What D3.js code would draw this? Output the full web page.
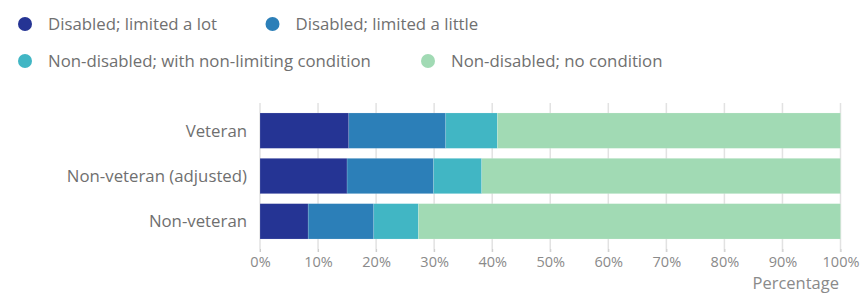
<!DOCTYPE html>
<html>
<head>
<meta charset="utf-8">
<script src="https://cdn.jsdelivr.net/npm/d3@7"></script>
<style>
  body { margin: 0; background: #fff; }
  svg text { font-family: "Open Sans", sans-serif; }
</style>
</head>
<body>
<svg id="chart" width="863" height="294"></svg>
<script>
// data
var categories = ["Veteran", "Non-veteran (adjusted)", "Non-veteran"];
var seriesNames = ["Disabled; limited a lot", "Disabled; limited a little",
                   "Non-disabled; with non-limiting condition", "Non-disabled; no condition"];
var limitedALot = [15.3, 15.0, 8.3];
var limitedALittle = [16.7, 14.9, 11.3];
var nonLimiting = [8.9, 8.3, 7.7];
var noCondition = [59.1, 61.8, 72.7];
var colours = ["#253494", "#2c7fb8", "#41b6c4", "#a1dab4"];
var xTicks = [0, 10, 20, 30, 40, 50, 60, 70, 80, 90, 100];

var svg = d3.select("#chart");

// build rows for the stack
var rows = categories.map(function(c, i) {
    return { cat: c, s0: limitedALot[i], s1: limitedALittle[i], s2: nonLimiting[i], s3: noCondition[i] };
});
var stack = d3.stack().keys(["s0", "s1", "s2", "s3"])(rows);

var x = d3.scaleLinear().domain([0, 100]).range([260, 840.5]);
var y = d3.scaleBand().domain(categories).range([103, 249]).padding(0.22);

// gridlines
svg.append("g")
    .selectAll("line")
    .data(xTicks)
    .join("line")
        .attr("x1", function(d) { return x(d); })
        .attr("x2", function(d) { return x(d); })
        .attr("y1", 103)
        .attr("y2", 252)
        .attr("stroke", "#e2e2e2")
        .attr("stroke-width", 1.5);

// bars
svg.append("g")
    .selectAll("g")
    .data(stack)
    .join("g")
        .attr("fill", function(d, i) { return colours[i]; })
    .selectAll("rect")
    .data(function(d) { return d; })
    .join("rect")
        .attr("x", function(d) { return x(d[0]); })
        .attr("y", function(d) { return y(d.data.cat); })
        .attr("width", function(d) { return x(d[1]) - x(d[0]); })
        .attr("height", y.bandwidth())
        .attr("stroke", "#ffffff")
        .attr("stroke-opacity", 0.25)
        .attr("stroke-width", 0.6);

// x axis
var xAxis = svg.append("g")
    .attr("transform", "translate(0,249)")
    .call(d3.axisBottom(x).tickValues(xTicks).tickFormat(function(d) { return d + "%"; })
        .tickSize(3).tickPadding(5));
xAxis.select(".domain").remove();
xAxis.selectAll("line").attr("stroke", "#cccccc");
xAxis.selectAll("text")
    .attr("fill", "#8a8a8a")
    .style("font-size", "14.5px");

svg.append("text")
    .attr("x", 839)
    .attr("y", 289)
    .attr("text-anchor", "end")
    .attr("fill", "#8a8a8a")
    .style("font-size", "16.5px")
    .text("Percentage");

// category labels
svg.append("g")
    .selectAll("text")
    .data(categories)
    .join("text")
        .attr("x", 247)
        .attr("y", function(d) { return y(d) + y.bandwidth() / 2; })
        .attr("dy", "0.35em")
        .attr("text-anchor", "end")
        .attr("fill", "#6f6f6f")
        .style("font-size", "16.8px")
        .text(function(d) { return d; });

// legend
var legendPos = [[25, 24], [272.5, 24], [25, 61], [428, 61]];
var legend = svg.append("g")
    .selectAll("g")
    .data(seriesNames)
    .join("g")
        .attr("transform", function(d, i) { return "translate(" + legendPos[i][0] + "," + legendPos[i][1] + ")"; });
legend.append("circle")
    .attr("r", 7)
    .attr("fill", function(d, i) { return colours[i]; });
legend.append("text")
    .attr("x", 23)
    .attr("dy", "0.35em")
    .attr("fill", "#707070")
    .style("font-size", "16.8px")
    .text(function(d) { return d; });
</script>
</body>
</html>
